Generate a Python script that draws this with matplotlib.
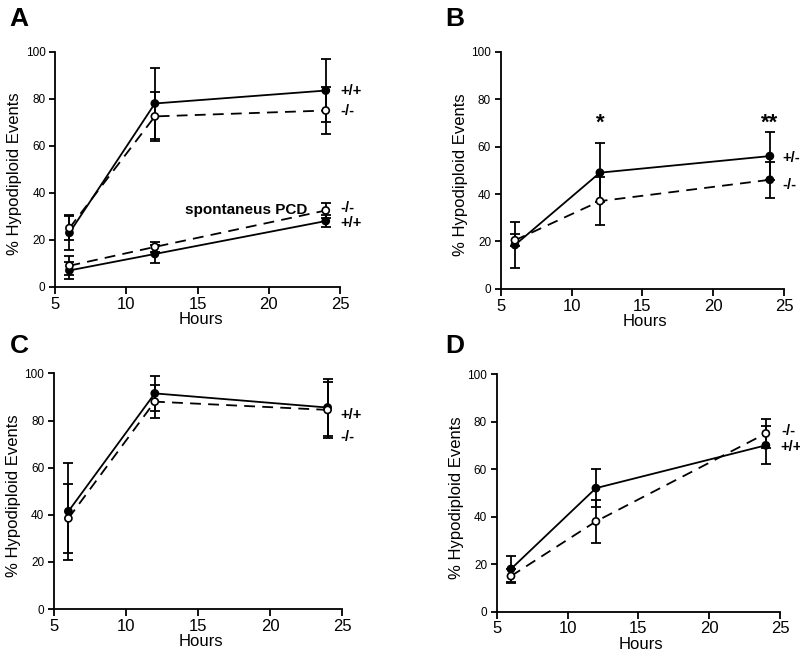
import numpy as np
import matplotlib
matplotlib.use('Agg')
import matplotlib.pyplot as plt

plt.rcParams['font.family'] = ['Liberation Sans', 'DejaVu Sans']

hours = [6, 12, 24]

# panel A - stimulated
a_wt = [23, 78, 83.5]
a_wt_err = [7.5, 15, 13.5]
a_ko = [25, 72.5, 75]
a_ko_err = [5, 10.5, 10]
# panel A - spontaneous PCD
a_sp_wt = [7, 14, 28]
a_sp_wt_err = [3.5, 4, 2.5]
a_sp_ko = [9, 17, 32.5]
a_sp_ko_err = [4, 2, 3]

# panel B
b_het = [18.5, 49, 56]
b_het_err = [9.5, 12.5, 10]
b_ko = [20.5, 37, 46]
b_ko_err = [2.5, 10, 7.5]

# panel C
c_wt = [41.5, 91.5, 85.5]
c_wt_err = [20.5, 7.5, 12]
c_ko = [38.5, 88, 84.5]
c_ko_err = [14.5, 7, 12]

# panel D
d_wt = [18, 52, 70]
d_wt_err = [5.5, 8, 8]
d_ko = [15, 38, 75]
d_ko_err = [3, 9, 6]

x_ticks = [5, 10, 15, 20, 25]
y_ticks = [0, 20, 40, 60, 80, 100]


def draw_series(ax, y, err, filled, dashed, faces=None):
    ls = '--' if dashed else '-'
    ax.errorbar(hours, y, yerr=err, fmt='none', ecolor='black', elinewidth=1.3,
                capsize=3.5, capthick=1.3, clip_on=False, zorder=2)
    ax.plot(hours, y, ls, color='black', lw=1.3, dashes=(6, 4) if dashed else (None, None),
            zorder=3, clip_on=False)
    if faces is None:
        faces = ['black' if filled else 'white'] * len(hours)
    ax.scatter(hours, y, s=26, facecolors=faces, edgecolors='black', linewidths=1.2,
               zorder=4, clip_on=False)


def setup(ax, letter, lx, ly):
    ax.set_xlim(5, 25)
    ax.set_ylim(0, 100)
    ax.set_xticks(x_ticks)
    ax.set_yticks(y_ticks)
    for s in ['top', 'right']:
        ax.spines[s].set_visible(False)
    for s in ['left', 'bottom']:
        ax.spines[s].set_linewidth(1.3)
    ax.tick_params(axis='x', direction='out', length=5, width=1.3, labelsize=12, pad=2)
    ax.tick_params(axis='y', direction='out', length=4, width=1.3, labelsize=8.5, pad=3)
    ax.set_xlabel('Hours', fontsize=12, labelpad=0)
    ax.xaxis.set_label_coords(0.51, -0.105)
    ax.set_ylabel('% Hypodiploid Events', fontsize=12)
    ax.yaxis.set_label_coords(-0.115, 0.48)
    fig.text(lx, ly, letter, fontsize=19, fontweight='bold', ha='left', va='top')


fig = plt.figure(figsize=(8, 6.55), dpi=100)

axA = fig.add_axes([0.069, 0.562, 0.356, 0.359])
axB = fig.add_axes([0.626, 0.559, 0.354, 0.362])
axC = fig.add_axes([0.0675, 0.070, 0.360, 0.360])
axD = fig.add_axes([0.621, 0.066, 0.354, 0.363])

# A
draw_series(axA, a_wt, a_wt_err, True, False)
draw_series(axA, a_ko, a_ko_err, False, True)
draw_series(axA, a_sp_wt, a_sp_wt_err, True, False)
draw_series(axA, a_sp_ko, a_sp_ko_err, False, True)
setup(axA, 'A', 0.012, 0.99)
kw = dict(fontsize=10.5, fontweight='bold', ha='left', va='center', clip_on=False)
axA.text(25.0, 83.5, '+/+', **kw)
axA.text(25.0, 75, '-/-', **kw)
axA.text(25.0, 33.5, '-/-', **kw)
axA.text(25.0, 27, '+/+', **kw)
axA.text(14.1, 32.5, 'spontaneus PCD', fontsize=11, fontweight='bold', ha='left', va='center')

# B
draw_series(axB, b_het, b_het_err, True, False)
draw_series(axB, b_ko, b_ko_err, False, True, faces=['white', 'white', 'black'])
setup(axB, 'B', 0.556, 0.99)
axB.text(24.9, 55, '+/-', **kw)
axB.text(24.9, 44, '-/-', **kw)
axB.text(12, 70, '*', fontsize=16, fontweight='bold', ha='center', va='center')
axB.text(24, 70, '**', fontsize=16, fontweight='bold', ha='center', va='center')

# C
draw_series(axC, c_wt, c_wt_err, True, False)
draw_series(axC, c_ko, c_ko_err, False, True)
setup(axC, 'C', 0.012, 0.49)
axC.text(24.9, 82.5, '+/+', **kw)
axC.text(24.9, 73, '-/-', **kw)

# D
draw_series(axD, d_wt, d_wt_err, True, False)
draw_series(axD, d_ko, d_ko_err, False, True)
setup(axD, 'D', 0.556, 0.49)
axD.text(25.1, 76, '-/-', **kw)
axD.text(25.0, 69.5, '+/+', **kw)

fig.savefig('out.png', dpi=100)
